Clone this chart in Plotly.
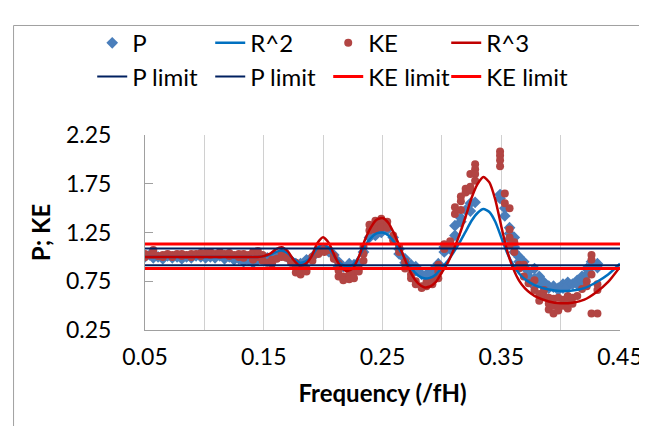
import plotly.graph_objects as go

# ---------------- data ----------------
# measured frequencies (columns of samples)
FREQ = [0.050, 0.054, 0.057, 0.061, 0.065, 0.069, 0.073, 0.077, 0.081, 0.085,
        0.089, 0.093, 0.097, 0.101, 0.105, 0.109, 0.113, 0.117, 0.121, 0.125,
        0.129, 0.133, 0.137, 0.141, 0.145, 0.149, 0.153, 0.157, 0.161, 0.165,
        0.169, 0.173, 0.177, 0.181, 0.186, 0.191, 0.196, 0.201, 0.205, 0.209,
        0.213, 0.217, 0.222, 0.226, 0.230, 0.234, 0.239, 0.244, 0.249, 0.254,
        0.259, 0.264, 0.269, 0.274, 0.278, 0.283, 0.287, 0.292, 0.297, 0.302,
        0.307, 0.311, 0.316, 0.320, 0.324, 0.328, 0.349, 0.353, 0.357, 0.361,
        0.365, 0.369, 0.373, 0.378, 0.382, 0.386, 0.390, 0.394, 0.398, 0.402,
        0.406, 0.410, 0.414, 0.418, 0.422, 0.426, 0.431]

P_VALUES = [[1.00], [1.02], [0.99], [1.00], [0.98], [1.01], [0.99], [1.00], [0.98], [1.00],
            [0.99], [1.01], [1.00], [0.99], [1.00], [0.99], [1.01], [0.98], [1.00], [0.97],
            [0.98], [0.95], [0.97], [0.94], [0.97], [1.00], [0.99], [1.00], [1.00], [1.02],
            [1.01], [0.96], [0.93], [0.93], [0.97], [1.00], [1.06], [1.07], [1.05], [1.02],
            [0.95, 0.90], [0.90], [0.93], [0.92, 0.88], [0.93], [1.05], [1.20], [1.28, 1.22], [1.30, 1.25], [1.28],
            [1.20], [1.08, 1.03], [0.98, 0.94], [0.92], [0.90, 0.86], [0.82], [0.82, 0.80], [0.86, 0.83], [0.93, 0.90], [1.10, 1.05],
            [1.12, 1.08], [1.32, 1.22], [1.40, 1.36], [1.48], [1.55, 1.47], [1.56], [1.64, 1.60], [1.50, 1.42], [1.30, 1.24, 1.18], [1.20, 1.10, 1.05],
            [1.00, 0.95], [0.95, 0.90], [0.85, 0.80], [0.88, 0.78, 0.70], [0.80, 0.76], [0.74, 0.70], [0.70, 0.68], [0.70, 0.69], [0.68, 0.66], [0.72, 0.68],
            [0.74, 0.70], [0.72], [0.76, 0.72], [0.80, 0.76], [0.88, 0.82], [0.95, 0.90], [0.93, 0.89]]

KE_VALUES = [[1.00, 1.03], [1.02], [1.07, 1.02], [1.01], [1.02, 1.00], [1.03], [1.00, 1.02], [1.03], [1.01, 1.03], [1.02],
             [1.00, 1.03], [1.03], [1.04, 1.01], [1.04], [1.02, 1.05], [1.03], [1.05, 1.02], [1.03], [1.04, 1.01], [1.02],
             [1.03, 1.00], [0.99, 1.03], [1.02], [0.97, 1.05], [1.06, 1.00], [0.96, 1.02], [0.94], [0.93, 0.97], [0.98], [1.04, 1.00],
             [0.99], [0.94], [0.89, 0.84, 0.94], [0.85, 0.82], [0.88, 0.85], [1.00, 0.96], [1.07, 1.03], [1.08, 1.05], [1.07], [1.01, 0.98],
             [0.93, 0.86, 0.80], [0.80, 0.76], [0.82, 0.77], [0.84, 0.78], [0.88, 0.85], [1.10, 1.03, 0.96], [1.33, 1.27], [1.37, 1.32, 1.28], [1.39, 1.35, 1.30], [1.36, 1.30],
             [1.22, 1.17], [1.10, 1.05], [0.95, 0.88], [0.82, 0.78], [0.75, 0.72], [0.70, 0.68], [0.74, 0.70], [0.76, 0.72], [0.92, 0.85, 0.78], [1.13, 1.08],
             [1.16, 1.12], [1.51, 1.44], [1.62, 1.57, 1.48], [1.70, 1.66], [1.85, 1.72, 1.68], [1.95, 1.90, 1.85, 1.78], [2.08, 2.04, 1.99, 1.93], [1.65, 1.55], [1.50, 1.28, 1.20, 1.12], [1.15, 1.05],
             [0.92, 0.88], [0.92, 0.80], [0.73], [0.76, 0.66], [0.62, 0.55], [0.66, 0.60], [0.58, 0.52, 0.46], [0.57, 0.50, 0.42], [0.58, 0.50, 0.45], [0.56, 0.50],
             [0.60, 0.53, 0.47], [0.58, 0.52], [0.60], [0.67], [0.75, 0.70], [1.02, 0.97, 0.82, 0.42], [0.72, 0.66, 0.42]]

# fitted curves
CURVE_F = [0.050, 0.100, 0.140, 0.145, 0.150, 0.155, 0.160, 0.165, 0.170, 0.175,
           0.180, 0.185, 0.190, 0.195, 0.200, 0.205, 0.210, 0.215, 0.220, 0.225,
           0.230, 0.235, 0.240, 0.245, 0.250, 0.255, 0.260, 0.265, 0.270, 0.275,
           0.280, 0.285, 0.290, 0.295, 0.300, 0.305, 0.310, 0.315, 0.320, 0.325,
           0.330, 0.335, 0.340, 0.345, 0.350, 0.355, 0.360, 0.365, 0.370, 0.375,
           0.380, 0.390, 0.400, 0.410, 0.420, 0.430, 0.440, 0.450]
R2 = [1.000, 1.000, 1.000, 1.000, 1.005, 1.020, 1.050, 1.065, 1.040, 0.980,
      0.940, 0.950, 1.000, 1.090, 1.130, 1.090, 1.000, 0.930, 0.900, 0.920,
      1.000, 1.110, 1.190, 1.240, 1.250, 1.220, 1.150, 1.060, 0.960, 0.870,
      0.810, 0.780, 0.785, 0.820, 0.890, 0.960, 1.050, 1.150, 1.260, 1.370,
      1.450, 1.490, 1.460, 1.360, 1.200, 1.040, 0.920, 0.830, 0.770, 0.730,
      0.700, 0.665, 0.650, 0.655, 0.680, 0.740, 0.820, 0.930]
R3 = [1.000, 1.000, 1.000, 1.000, 1.008, 1.030, 1.076, 1.099, 1.061, 0.970,
      0.911, 0.926, 1.000, 1.138, 1.201, 1.138, 1.000, 0.897, 0.854, 0.882,
      1.000, 1.169, 1.298, 1.381, 1.398, 1.348, 1.233, 1.091, 0.941, 0.811,
      0.729, 0.689, 0.696, 0.743, 0.840, 0.941, 1.076, 1.233, 1.414, 1.604,
      1.746, 1.819, 1.764, 1.586, 1.315, 1.061, 0.882, 0.756, 0.676, 0.624,
      0.586, 0.542, 0.524, 0.530, 0.561, 0.637, 0.743, 0.897]

LIMIT_F = [0.05, 0.45]
P_LIMITS = [1.087, 0.915]
KE_LIMITS = [1.133, 0.880]

X_TICKS = [0.05, 0.10, 0.15, 0.20, 0.25, 0.30, 0.35, 0.40, 0.45]
X_TICK_TEXT = ["0.05", "", "0.15", "", "0.25", "", "0.35", "", "0.45"]
Y_TICKS = [0.25, 0.75, 1.25, 1.75, 2.25]
Y_TICK_TEXT = ["0.25", "0.75", "1.25", "1.75", "2.25"]

# ---------------- figure ----------------
FONT = "Lato, 'Open Sans', sans-serif"
W, H = 647, 426
L, R, T, B = 137, 33, 119, 104
PW, PH = W - L - R, H - T - B


def flat(cols):
    xs, ys = [], []
    for f, vals in zip(FREQ, cols):
        for v in vals:
            xs.append(f)
            ys.append(v)
    return xs, ys


px_, py_ = flat(P_VALUES)
kx_, ky_ = flat(KE_VALUES)

fig = go.Figure()
fig.add_trace(go.Scatter(x=px_, y=py_, mode="markers", name="P", legend="legend", legendrank=1,
                         marker=dict(symbol="diamond", size=9, color="#4A7EBB")))
fig.add_trace(go.Scatter(x=kx_, y=ky_, mode="markers", name="KE", legend="legend", legendrank=3,
                         marker=dict(symbol="circle", size=8, color="#B24543")))
fig.add_trace(go.Scatter(x=CURVE_F, y=R2, mode="lines", name="R^2", legend="legend", legendrank=2,
                         line=dict(color="#0070C0", width=2.5, shape="spline", smoothing=0.6)))
fig.add_trace(go.Scatter(x=CURVE_F, y=R3, mode="lines", name="R^3", legend="legend", legendrank=4,
                         legendwidth=110,
                         line=dict(color="#C00000", width=2.5, shape="spline", smoothing=0.6)))
fig.add_trace(go.Scatter(x=LIMIT_F, y=[P_LIMITS[0]] * 2, mode="lines", name="P limit",
                         legend="legend2", legendrank=1, line=dict(color="#002060", width=2)))
fig.add_trace(go.Scatter(x=LIMIT_F, y=[P_LIMITS[1]] * 2, mode="lines", name="P limit",
                         legend="legend2", legendrank=2, line=dict(color="#002060", width=2)))
fig.add_trace(go.Scatter(x=LIMIT_F, y=[KE_LIMITS[0]] * 2, mode="lines", name="KE limit",
                         legend="legend2", legendrank=3, line=dict(color="#FF0000", width=3)))
fig.add_trace(go.Scatter(x=LIMIT_F, y=[KE_LIMITS[1]] * 2, mode="lines", name="KE limit",
                         legend="legend2", legendrank=4, legendwidth=110,
                         line=dict(color="#FF0000", width=3)))


def px2x(p):
    return (p - L) / PW


def px2y(p):
    return (H - B - p) / PH


legend_common = dict(orientation="h", xanchor="left", yanchor="top",
                     font=dict(family=FONT, size=24, color="#000000"),
                     entrywidth=73, entrywidthmode="pixels",
                     bgcolor="rgba(0,0,0,0)", itemwidth=30, tracegroupgap=0)

fig.update_layout(
    width=W, height=H,
    margin=dict(l=L, r=R, t=T, b=B, pad=0),
    paper_bgcolor="white", plot_bgcolor="white",
    font=dict(family=FONT, size=20, color="#000000"),
    legend=dict(x=px2x(84), y=px2y(0), **legend_common),
    legend2=dict(x=px2x(84), y=px2y(35), **legend_common),
    xaxis=dict(range=[0.05, 0.45], tickvals=X_TICKS, ticktext=X_TICK_TEXT,
               showgrid=True, gridcolor="#D0D0D0", gridwidth=1,
               showline=True, linecolor="#A0A0A0", linewidth=1, zeroline=False,
               ticks="", tickfont=dict(family=FONT, size=23), ticklabelstandoff=6,
               title=dict(text="<b>Frequency (/fH)</b>", font=dict(family=FONT, size=24), standoff=16)),
    yaxis=dict(range=[0.25, 2.25], tickvals=Y_TICKS, ticktext=Y_TICK_TEXT,
               showgrid=False, showline=True, linecolor="#A0A0A0", linewidth=1, zeroline=False,
               ticks="inside", ticklen=8, tickcolor="#A0A0A0",
               tickfont=dict(family=FONT, size=23), ticklabelstandoff=28,
               title=dict(text="<b>P; KE</b>", font=dict(family=FONT, size=24), standoff=8)),
    shapes=[dict(type="rect", xref="paper", yref="paper",
                 x0=px2x(5), x1=px2x(641), y0=px2y(440), y1=px2y(5),
                 line=dict(color="#A0A0A0", width=1), fillcolor="rgba(0,0,0,0)", layer="below")],
)

fig.write_html("out.html")
